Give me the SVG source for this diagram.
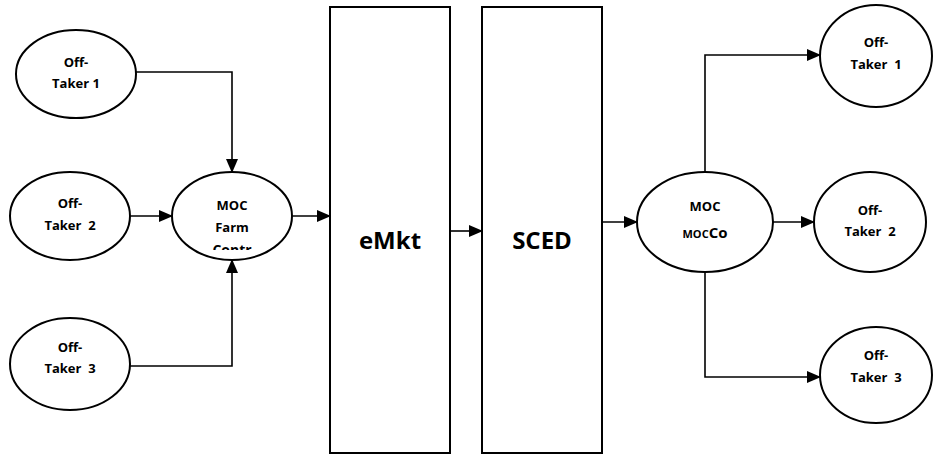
<svg xmlns="http://www.w3.org/2000/svg" width="933" height="455" viewBox="0 0 933 455">
<style>
.n{fill:#fff;stroke:#000;stroke-width:2}
.b{fill:#fff;stroke:#000;stroke-width:2}
.t{font-family:"Open Sans","Liberation Sans",sans-serif;font-weight:bold;font-size:13px;fill:#000;text-anchor:middle;white-space:pre}
.bt{font-family:"Open Sans","Liberation Sans",sans-serif;font-weight:bold;font-size:24px;fill:#000;text-anchor:middle}
.c{fill:none;stroke:#000;stroke-width:1.6}
</style>
<defs>
<marker id="ah" markerUnits="userSpaceOnUse" markerWidth="14" markerHeight="14" viewBox="0 0 14 14" refX="13" refY="7" orient="auto">
<path d="M0,1 L14,7 L0,13 Z" fill="#000"/>
</marker>
<clipPath id="clipFarm"><rect x="160" y="170" width="150" height="80"/></clipPath>
</defs>
<g id="connectors">
<polyline class="c" points="136,72 232,72 232,172" marker-end="url(#ah)"/>
<line class="c" x1="130" y1="216" x2="172" y2="216" marker-end="url(#ah)"/>
<polyline class="c" points="130,366 232,366 232,260" marker-end="url(#ah)"/>
<line class="c" x1="292" y1="216" x2="330" y2="216" marker-end="url(#ah)"/>
<line class="c" x1="450" y1="231" x2="482" y2="231" marker-end="url(#ah)"/>
<line class="c" x1="602" y1="222" x2="637" y2="222" marker-end="url(#ah)"/>
<polyline class="c" points="705,172 705,55 820,55" marker-end="url(#ah)"/>
<line class="c" x1="773" y1="222" x2="814" y2="222" marker-end="url(#ah)"/>
<polyline class="c" points="705,272 705,377 820,377" marker-end="url(#ah)"/>
</g>
<g id="offtaker1-left">
<ellipse class="n" cx="76" cy="74" rx="60" ry="44"/>
<text class="t" x="76" y="67">Off-</text>
<text class="t" x="76" y="88">Taker 1</text>
</g>
<g id="offtaker2-left">
<ellipse class="n" cx="70" cy="216" rx="60" ry="44"/>
<text class="t" x="70" y="208">Off-</text>
<text class="t" x="70" y="230">Taker  2</text>
</g>
<g id="offtaker3-left">
<ellipse class="n" cx="70" cy="364" rx="60" ry="46"/>
<text class="t" x="70" y="352">Off-</text>
<text class="t" x="70" y="373">Taker  3</text>
</g>
<g id="moc-farm">
<ellipse class="n" cx="232" cy="216" rx="60" ry="44"/>
<g clip-path="url(#clipFarm)">
<text class="t" x="232" y="210">MOC</text>
<text class="t" x="232" y="232">Farm</text>
<text class="t" x="232" y="255" style="font-size:14px">Contr</text>
</g>
</g>
<g id="emkt">
<rect class="b" x="330" y="7" width="120" height="446"/>
<text class="bt" x="390" y="249">eMkt</text>
</g>
<g id="sced">
<rect class="b" x="482" y="7" width="120" height="446"/>
<text class="bt" x="542" y="249">SCED</text>
</g>
<g id="moc-mocco">
<ellipse class="n" cx="705" cy="222" rx="68" ry="50"/>
<text class="t" x="705" y="211">MOC</text>
<text class="t" x="705" y="238"><tspan style="font-size:11px">MOC</tspan><tspan style="font-size:15px">Co</tspan></text>
</g>
<g id="offtaker1-right">
<ellipse class="n" cx="876" cy="56" rx="56" ry="51"/>
<text class="t" x="876" y="47">Off-</text>
<text class="t" x="876" y="69">Taker  1</text>
</g>
<g id="offtaker2-right">
<ellipse class="n" cx="870" cy="222" rx="56" ry="50"/>
<text class="t" x="870" y="215">Off-</text>
<text class="t" x="870" y="236">Taker  2</text>
</g>
<g id="offtaker3-right">
<ellipse class="n" cx="876" cy="375" rx="56" ry="48"/>
<text class="t" x="876" y="360">Off-</text>
<text class="t" x="876" y="382">Taker  3</text>
</g>
</svg>
